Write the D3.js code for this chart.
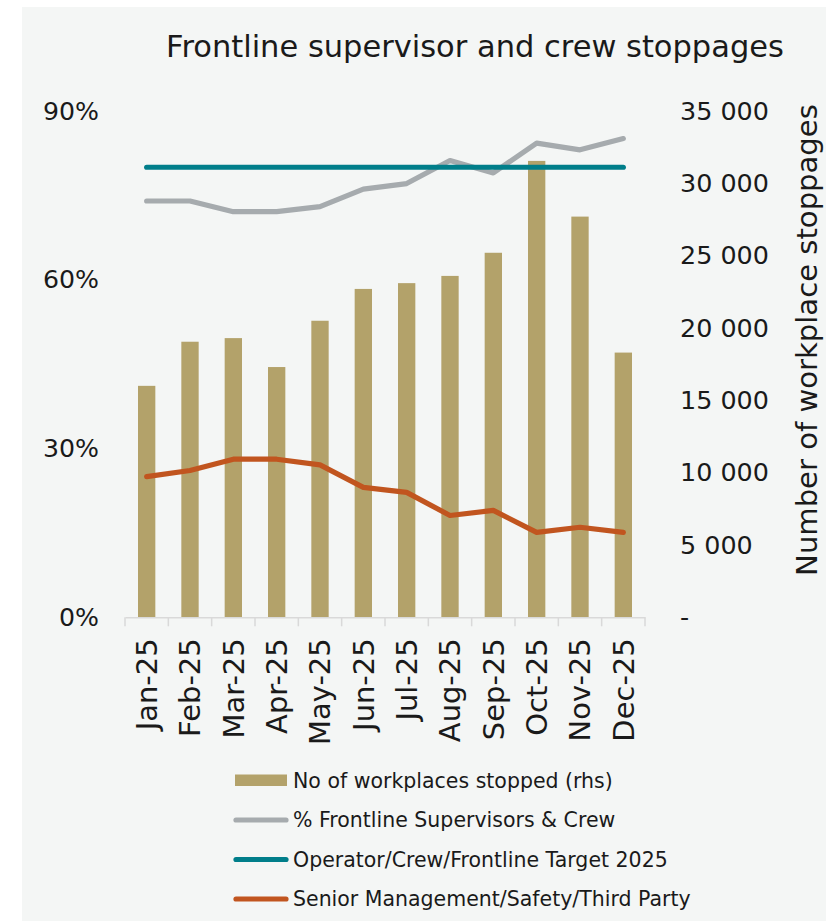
<!DOCTYPE html>
<html>
<head>
<meta charset="utf-8">
<script src="https://cdn.jsdelivr.net/npm/d3@7"></script>
<style>
  body { margin: 0; background: #fff; }
  text { font-family: "Century Gothic", "DejaVu Sans", sans-serif; fill: #1a1a1a; }
</style>
</head>
<body>
<script>
const w = 826;
const h = 922;

// data
const months = ["Jan-25", "Feb-25", "Mar-25", "Apr-25", "May-25", "Jun-25",
                "Jul-25", "Aug-25", "Sep-25", "Oct-25", "Nov-25", "Dec-25"];
const stopped = [16000, 19050, 19300, 17300, 20500, 22700, 23100, 23600, 25200, 31550, 27700, 18300];
const frontlinePct = [0.740, 0.740, 0.721, 0.721, 0.730, 0.761, 0.771, 0.812, 0.790, 0.843, 0.831, 0.851];
const targetPct = [0.80, 0.80, 0.80, 0.80, 0.80, 0.80, 0.80, 0.80, 0.80, 0.80, 0.80, 0.80];
const seniorPct = [0.250, 0.261, 0.281, 0.281, 0.271, 0.231, 0.222, 0.181, 0.190, 0.151, 0.160, 0.151];
const leftTicks = [0, 0.3, 0.6, 0.9];
const rightTicks = [0, 5000, 10000, 15000, 20000, 25000, 30000, 35000];

const colBar = "#b3a26a";
const colGray = "#a6abae";
const colTeal = "#007e8a";
const colOrange = "#c1551f";

const plotLeft = 125, plotRight = 645, plotTop = 111, plotBottom = 617.3;

const svg = d3.select("body").append("svg")
  .attr("width", w)
  .attr("height", h);

svg.append("rect").attr("x", 22).attr("y", 7).attr("width", w - 22).attr("height", h - 8)
  .attr("fill", "#f4f6f5");

// font size that makes a text node `target` px wide
function fit(sel, target) {
  const len = sel.node().getComputedTextLength();
  const fs = parseFloat(sel.attr("font-size"));
  return fs * target / len;
}

const x = d3.scaleBand().domain(months).range([plotLeft, plotRight]).paddingInner(0.6).paddingOuter(0.3);
const yL = d3.scaleLinear().domain([0, 0.9]).range([plotBottom, plotTop]);
const yR = d3.scaleLinear().domain([0, 35000]).range([plotBottom, plotTop]);
const cx = (d, i) => x(months[i]) + x.bandwidth() / 2;

// title
const title = svg.append("text")
  .attr("x", 475).attr("y", 57)
  .attr("text-anchor", "middle")
  .attr("font-size", 30)
  .text("Frontline supervisor and crew stoppages");
title.attr("font-size", fit(title, 618));

// bars
svg.append("g").selectAll("rect")
  .data(stopped)
  .join("rect")
  .attr("x", (d, i) => x(months[i]))
  .attr("y", d => yR(d))
  .attr("width", x.bandwidth())
  .attr("height", d => plotBottom - yR(d))
  .attr("fill", colBar);

// x axis
const xAxis = svg.append("g")
  .attr("transform", "translate(0," + plotBottom + ")")
  .call(d3.axisBottom(x).tickSize(0).tickSizeOuter(0));
xAxis.attr("font-family", null).attr("font-size", null);
xAxis.select(".domain").attr("stroke", "#d9d9d9").attr("stroke-width", 1.5);
xAxis.selectAll("text")
  .attr("transform", "rotate(-90)")
  .attr("text-anchor", "end")
  .attr("x", -21).attr("y", 0).attr("dy", "0.36em")
  .attr("font-size", 26)
  .attr("fill", "#1a1a1a");
const xfs = fit(xAxis.select("text"), 92);
xAxis.selectAll("text").attr("font-size", xfs);

// category boundary ticks
svg.append("g").selectAll("line")
  .data(d3.range(months.length + 1))
  .join("line")
  .attr("x1", i => plotLeft + i * x.step()).attr("x2", i => plotLeft + i * x.step())
  .attr("y1", plotBottom).attr("y2", plotBottom + 9)
  .attr("stroke", "#d9d9d9").attr("stroke-width", 1.5);

// left axis
const yAxisL = svg.append("g")
  .attr("transform", "translate(99,0)")
  .call(d3.axisLeft(yL).tickValues(leftTicks).tickFormat(d3.format(".0%")).tickSize(0).tickPadding(0));
yAxisL.select(".domain").remove();
yAxisL.attr("font-family", null).attr("font-size", null);
yAxisL.selectAll("text").attr("fill", "#1a1a1a").attr("font-size", 26);
const lfs = fit(yAxisL.selectAll("text").filter(d => d === 0.9), 56);
yAxisL.selectAll("text").attr("font-size", lfs);

// right axis
const yAxisR = svg.append("g")
  .attr("transform", "translate(680,0)")
  .call(d3.axisRight(yR).tickValues(rightTicks)
    .tickFormat(d => d === 0 ? "-" : d3.format(",")(d).replace(",", " "))
    .tickSize(0).tickPadding(0));
yAxisR.select(".domain").remove();
yAxisR.attr("font-family", null).attr("font-size", null);
yAxisR.selectAll("text").attr("fill", "#1a1a1a").attr("font-size", 26);
const rfs = fit(yAxisR.selectAll("text").filter(d => d === 35000), 89);
yAxisR.selectAll("text").attr("font-size", rfs);

// right axis title
const rt = svg.append("text")
  .attr("transform", "translate(817,340) rotate(-90)")
  .attr("text-anchor", "middle")
  .attr("font-size", 26)
  .text("Number of workplace stoppages");
rt.attr("font-size", fit(rt, 472));

// lines
const line = d3.line().x(cx).y(d => yL(d));
[[frontlinePct, colGray], [targetPct, colTeal], [seniorPct, colOrange]].forEach(([vals, c]) => {
  svg.append("path")
    .datum(vals)
    .attr("d", line)
    .attr("fill", "none")
    .attr("stroke", c)
    .attr("stroke-width", 5.2)
    .attr("stroke-linecap", "round")
    .attr("stroke-linejoin", "round");
});

// legend
const legendItems = [
  { label: "No of workplaces stopped (rhs)", color: colBar, type: "bar" },
  { label: "% Frontline Supervisors & Crew", color: colGray, type: "line" },
  { label: "Operator/Crew/Frontline Target 2025", color: colTeal, type: "line" },
  { label: "Senior Management/Safety/Third Party", color: colOrange, type: "line" }
];
const lg = svg.append("g").selectAll("g")
  .data(legendItems)
  .join("g")
  .attr("transform", (d, i) => "translate(0," + (780.5 + i * 39.5) + ")");
lg.filter(d => d.type === "bar").append("rect")
  .attr("x", 235).attr("y", -6).attr("width", 52).attr("height", 11.5)
  .attr("fill", d => d.color);
lg.filter(d => d.type === "line").append("line")
  .attr("x1", 236).attr("x2", 286).attr("y1", 0).attr("y2", 0)
  .attr("stroke", d => d.color).attr("stroke-width", 5.2).attr("stroke-linecap", "round");
const lt = lg.append("text")
  .attr("x", 293).attr("y", 0).attr("dy", "0.35em")
  .attr("font-size", 19)
  .text(d => d.label);
const gfs = fit(lt.filter((d, i) => i === 0), 320);
lt.attr("font-size", gfs);
</script>
</body>
</html>
